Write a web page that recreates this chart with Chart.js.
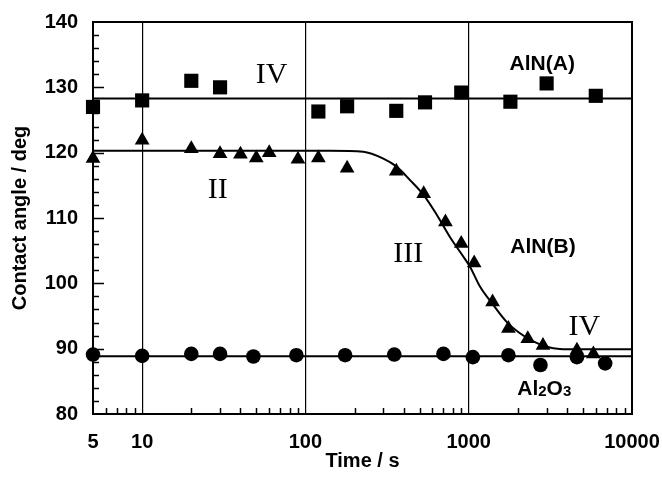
<!DOCTYPE html>
<html>
<head>
<meta charset="utf-8">
<script src="https://cdn.jsdelivr.net/npm/chart.js@4/dist/chart.umd.min.js"></script>
<style>
  html, body { margin: 0; padding: 0; background: #fff; }
  #wrap { width: 662px; height: 479px; }
</style>
</head>
<body>
<div id="wrap"><canvas id="c" width="662" height="479"></canvas></div>
<script>
// ---- data ----
const alnATime = [5, 10, 20, 30, 120, 180, 360, 540, 900, 1800, 3000, 6000];
const alnAAngle = [127.0, 128.0, 131.0, 130.0, 126.3, 127.1, 126.4, 127.7, 129.2, 127.8, 130.6, 128.7];

const alnBTime = [5, 10, 20, 30, 40, 50, 60, 90, 120, 180, 360, 530, 720, 900, 1080, 1400, 1750, 2300, 2850, 4600, 5800];
const alnBAngle = [119.1, 121.9, 120.6, 119.85, 119.75, 119.2, 120.0, 119.0, 119.2, 117.6, 117.15, 113.7, 109.4, 106.1, 103.1, 97.15, 93.1, 91.5, 90.5, 89.75, 89.2];

const al2o3Time = [5, 10, 20, 30, 48, 88, 175, 350, 700, 1060, 1750, 2750, 4600, 6850];
const al2o3Angle = [89.1, 88.9, 89.2, 89.2, 88.8, 89.0, 89.0, 89.1, 89.2, 88.7, 89.0, 87.5, 88.7, 87.75];

// fitted curves
const fitATime = [5, 10000];
const fitAAngle = [128.3, 128.3];
const fitBTime = [5, 100, 141, 226, 300, 360, 437, 530, 637, 767, 926, 1020, 1172, 1413, 1707, 2060, 2486, 3000, 3620, 4500, 10000];
const fitBAngle = [120.3, 120.3, 120.3, 120.15, 119.1, 117.9, 115.8, 113.5, 110.5, 107.1, 104.1, 102.5, 99.5, 96.7, 94.1, 92.35, 91.1, 90.3, 89.95, 89.9, 89.9];
const fitCTime = [5, 10000];
const fitCAngle = [88.85, 88.85];

// axis ticks
const xTickValues = [5, 6, 7, 8, 9, 10, 20, 30, 40, 50, 60, 70, 80, 90, 100, 200, 300, 400, 500, 600, 700, 800, 900, 1000, 2000, 3000, 4000, 5000, 6000, 7000, 8000, 9000, 10000];
const xLabelled = [5, 10, 100, 1000, 10000];
const xGridValues = [10, 100, 1000];
const yMajor = [80, 90, 100, 110, 120, 130, 140];

// text labels in data coordinates (parts: [text, isSubscript])
const notes = [
  { parts: [['IV', false]], t: 62, v: 132.2, kind: 'roman' },
  { parts: [['II', false]], t: 29, v: 114.6, kind: 'roman' },
  { parts: [['III', false]], t: 426, v: 104.8, kind: 'roman' },
  { parts: [['IV', false]], t: 5100, v: 93.6, kind: 'roman' },
  { parts: [['AlN(A)', false]], t: 2820, v: 133.9, kind: 'sans' },
  { parts: [['AlN(B)', false]], t: 2850, v: 105.8, kind: 'sans' },
  { parts: [['Al', false], ['2', true], ['O', false], ['3', true]], t: 2900, v: 84.2, kind: 'sans' }
];

const pts = (xs, ys) => xs.map((x, i) => ({ x: x, y: ys[i] }));

const decor = {
  id: 'decor',
  afterDatasetsDraw(chart) {
    const ctx = chart.ctx;
    const a = chart.chartArea;
    const xs = chart.scales.x, ys = chart.scales.y;
    ctx.save();
    ctx.strokeStyle = '#000';
    // inner ticks on x axis
    ctx.lineWidth = 1.5;
    xTickValues.forEach(v => {
      if (xGridValues.includes(v) || v === 5 || v === 10000) return;
      const px = Math.round(xs.getPixelForValue(v)) + 0.5;
      ctx.beginPath(); ctx.moveTo(px, a.bottom); ctx.lineTo(px, a.bottom - 6); ctx.stroke();
    });
    // inner ticks on y axis
    for (let v = 82; v < 140; v += 2) {
      const py = Math.round(ys.getPixelForValue(v)) + 0.5;
      const len = yMajor.includes(v) ? 11 : 6;
      ctx.beginPath(); ctx.moveTo(a.left, py); ctx.lineTo(a.left + len, py); ctx.stroke();
    }
    // frame
    ctx.lineWidth = 2;
    ctx.strokeRect(a.left, a.top, a.right - a.left, a.bottom - a.top);
    // labels
    ctx.fillStyle = '#000';
    ctx.textBaseline = 'alphabetic';
    ctx.textAlign = 'left';
    notes.forEach(n => {
      const big = n.kind === 'roman' ? '30px "Liberation Serif"' : 'bold 21px "Liberation Sans"';
      const small = 'bold 15px "Liberation Sans"';
      let total = 0;
      n.parts.forEach(p => { ctx.font = p[1] ? small : big; total += ctx.measureText(p[0]).width; });
      let x = xs.getPixelForValue(n.t) - total / 2;
      const yb = ys.getPixelForValue(n.v) + (n.kind === 'roman' ? 10 : 8);
      n.parts.forEach(p => {
        ctx.font = p[1] ? small : big;
        ctx.fillText(p[0], x, yb + (p[1] ? 1 : 0));
        x += ctx.measureText(p[0]).width;
      });
    });
    ctx.restore();
  }
};

const tickFont = { family: 'Liberation Sans', size: 20, weight: 'bold' };

new Chart(document.getElementById('c'), {
  type: 'scatter',
  data: {
    datasets: [
      { label: 'AlN(A)', data: pts(alnATime, alnAAngle), pointStyle: 'rect', pointRadius: 10, backgroundColor: '#000', borderColor: '#000', borderWidth: 0, showLine: false, clip: false },
      { label: 'AlN(B)', data: pts(alnBTime, alnBAngle), pointStyle: 'triangle', pointRadius: 8.5, backgroundColor: '#000', borderColor: '#000', borderWidth: 0, showLine: false, clip: false },
      { label: 'Al2O3', data: pts(al2o3Time, al2o3Angle), pointStyle: 'circle', pointRadius: 7.3, backgroundColor: '#000', borderColor: '#000', borderWidth: 0, showLine: false, clip: false },
      { label: 'fit A', data: pts(fitATime, fitAAngle), showLine: true, pointRadius: 0, borderColor: '#000', borderWidth: 2 },
      { label: 'fit B', data: pts(fitBTime, fitBAngle), showLine: true, pointRadius: 0, borderColor: '#000', borderWidth: 2, cubicInterpolationMode: 'monotone' },
      { label: 'fit C', data: pts(fitCTime, fitCAngle), showLine: true, pointRadius: 0, borderColor: '#000', borderWidth: 2 }
    ]
  },
  options: {
    responsive: false,
    animation: false,
    layout: { padding: { top: 22, right: 30, left: 0, bottom: 0 } },
    plugins: { legend: { display: false }, tooltip: { enabled: false } },
    scales: {
      x: {
        type: 'logarithmic',
        min: 5, max: 10000,
        afterBuildTicks: s => { s.ticks = xTickValues.map(v => ({ value: v })); },
        afterFit: s => { s.height = 65; s.paddingLeft = 0; s.paddingRight = 0; },
        ticks: {
          autoSkip: false, maxRotation: 0, padding: 16, color: '#000',
          font: tickFont,
          callback: v => xLabelled.includes(v) ? String(v) : ''
        },
        grid: {
          drawTicks: false,
          lineWidth: 1.2,
          color: c => (c.tick && xGridValues.includes(c.tick.value)) ? '#000' : 'rgba(0,0,0,0)'
        },
        border: { display: true, color: '#000', width: 2 },
        title: { display: true, text: 'Time / s', color: '#000', font: tickFont, padding: { top: 0, bottom: 6 } }
      },
      y: {
        min: 80, max: 140,
        afterBuildTicks: s => { s.ticks = yMajor.map(v => ({ value: v })); },
        afterFit: s => { s.width = 93; s.paddingTop = 0; s.paddingBottom = 0; },
        ticks: { padding: 15, color: '#000', font: tickFont },
        grid: { drawTicks: false, color: 'rgba(0,0,0,0)' },
        border: { display: true, color: '#000', width: 2 },
        title: { display: true, text: 'Contact angle / deg', color: '#000', font: tickFont, padding: { top: 8, bottom: 0 } }
      }
    }
  },
  plugins: [decor]
});
</script>
</body>
</html>
